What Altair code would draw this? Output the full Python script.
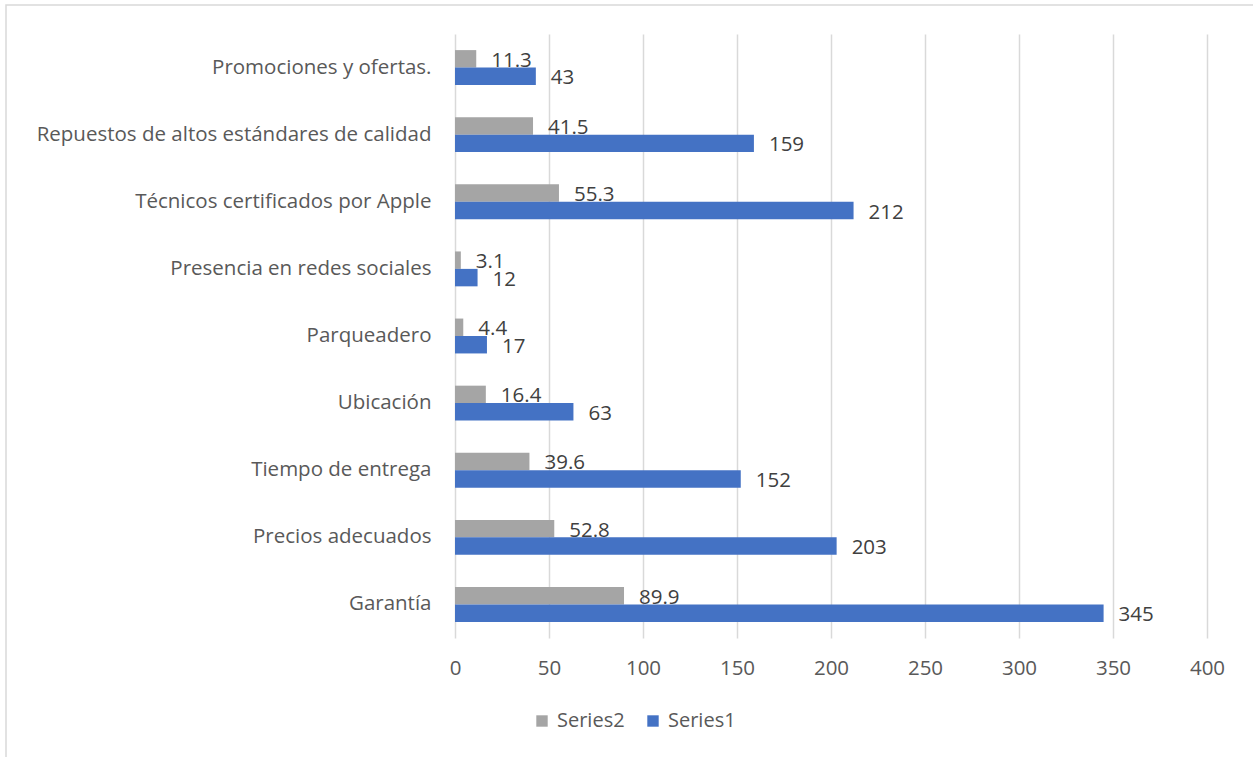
import altair as alt
import pandas as pd

categories = [
    "Promociones y ofertas.",
    "Repuestos de altos estándares de calidad",
    "Técnicos certificados por Apple",
    "Presencia en redes sociales",
    "Parqueadero",
    "Ubicación",
    "Tiempo de entrega",
    "Precios adecuados",
    "Garantía",
]
series1 = [43, 159, 212, 12, 17, 63, 152, 203, 345]
series2 = [11.3, 41.5, 55.3, 3.1, 4.4, 16.4, 39.6, 52.8, 89.9]
series_names = ["Series2", "Series1"]
x_ticks = [0, 50, 100, 150, 200, 250, 300, 350, 400]

rows = []
for c, v1, v2 in zip(categories, series1, series2):
    rows.append({"cat": c, "series": "Series2", "value": v2, "label": f"{v2:.1f}"})
    rows.append({"cat": c, "series": "Series1", "value": v1, "label": f"{v1:g}"})
df = pd.DataFrame(rows)

FONT = "Open Sans"
TXT = "#595959"

y_enc = alt.Y("cat:N", sort=categories, title=None,
              scale=alt.Scale(paddingInner=0.48, paddingOuter=0.24),
              axis=alt.Axis(labelFontSize=20.5, labelColor=TXT, labelFont=FONT,
                            ticks=False, domain=False, labelPadding=24, grid=False,
                            labelLimit=500))
yoff = alt.YOffset("series:N", sort=series_names, scale=alt.Scale(domain=series_names, paddingInner=0))

base = alt.Chart(df)

bars = base.mark_bar().encode(
    x=alt.X("value:Q", title=None,
            scale=alt.Scale(domain=[0, 400], nice=False),
            axis=alt.Axis(values=x_ticks, labelFontSize=20.5, labelColor=TXT, labelFont=FONT,
                          ticks=False, domain=False, grid=True, gridColor="#D9D9D9",
                          gridWidth=1.5, labelPadding=20, labelFlush=False)),
    y=y_enc,
    yOffset=yoff,
    color=alt.Color("series:N",
                    scale=alt.Scale(domain=series_names, range=["#A5A5A5", "#4472C4"]),
                    legend=alt.Legend(title=None, orient="none", direction="horizontal",
                                      legendX=77, legendY=677, symbolType="square",
                                      symbolSize=130, symbolStrokeWidth=0,
                                      labelFontSize=20, labelColor=TXT, labelFont=FONT,
                                      columnPadding=18, labelOffset=5)),
)

labels = base.mark_text(align="left", baseline="middle", dx=15, dy=2,
                        fontSize=20.5, font=FONT, color="#404040").encode(
    x="value:Q",
    y=alt.Y("cat:N", sort=categories),
    yOffset=yoff,
    text="label:N",
)

border = alt.Chart(pd.DataFrame({"d": [0]})).mark_rect(
    fill=None, stroke="#D9D9D9", strokeWidth=1.5
).encode(x=alt.value(-449), x2=alt.value(800), y=alt.value(-29), y2=alt.value(760))

chart = alt.layer(border, bars, labels).properties(
    width=752, height=604,
    autosize=alt.AutoSizeParams(type="none"),
    padding={"left": 455, "top": 34, "right": 46, "bottom": 119},
    background="white",
).configure_view(stroke=None)

chart.save("out.html", embed_options={"renderer": "svg", "actions": False})
